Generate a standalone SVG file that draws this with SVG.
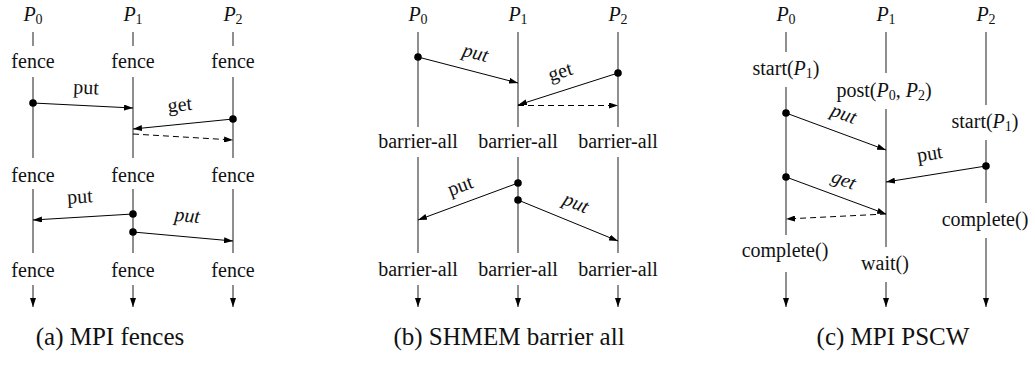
<svg xmlns="http://www.w3.org/2000/svg" width="1035" height="374" viewBox="0 0 1035 374">
<defs>
<style>
text{font-family:"Liberation Serif","Times New Roman",serif;font-size:20px;fill:#111}
.cap{font-size:25px}
.it{font-style:italic}
.ll{stroke:#333;stroke-width:1.1;fill:none}
.end{stroke:#333;stroke-width:1.1;fill:none;marker-end:url(#ah)}
.msg{stroke:#000;stroke-width:1;fill:none;marker-end:url(#ah)}
.dash{stroke-dasharray:6 4}
.dot{fill:#000}
</style>
<marker id="ah" viewBox="0 0 9 6" refX="9" refY="3" markerWidth="9" markerHeight="6" markerUnits="userSpaceOnUse" orient="auto">
<path d="M0,0 L9,3 L0,6 z" fill="#000"/>
</marker>
</defs>
<rect width="1035" height="374" fill="#fff"/>

<!-- Panel (a) -->
<g id="a-p0">
<text x="33" y="21" text-anchor="middle"><tspan class="it">P</tspan><tspan font-size="14" dy="3">0</tspan></text>
<path class="ll" d="M33,32V46M33,77V158M33,189V253"/>
<path class="end" d="M33,285V307"/>
<text x="33" y="68" text-anchor="middle">fence</text>
<text x="33" y="182" text-anchor="middle">fence</text>
<text x="33" y="277" text-anchor="middle">fence</text>
</g>
<g id="a-p1">
<text x="133" y="21" text-anchor="middle"><tspan class="it">P</tspan><tspan font-size="14" dy="3">1</tspan></text>
<path class="ll" d="M133,32V46M133,77V158M133,189V253"/>
<path class="end" d="M133,285V307"/>
<text x="133" y="68" text-anchor="middle">fence</text>
<text x="133" y="182" text-anchor="middle">fence</text>
<text x="133" y="277" text-anchor="middle">fence</text>
</g>
<g id="a-p2">
<text x="233" y="21" text-anchor="middle"><tspan class="it">P</tspan><tspan font-size="14" dy="3">2</tspan></text>
<path class="ll" d="M233,32V46M233,77V158M233,189V253"/>
<path class="end" d="M233,285V307"/>
<text x="233" y="68" text-anchor="middle">fence</text>
<text x="233" y="182" text-anchor="middle">fence</text>
<text x="233" y="277" text-anchor="middle">fence</text>
</g>
<g id="a-connectors">
<circle class="dot" cx="33" cy="103" r="3.8"/>
<path class="msg" d="M33,103L133,108"/>
<text text-anchor="middle" transform="translate(86,90) rotate(3)" y="4">put</text>
<circle class="dot" cx="233" cy="119" r="3.8"/>
<path class="msg" d="M233,119L133,129"/>
<text text-anchor="middle" transform="translate(180,107) rotate(-5.7)" y="4">get</text>
<path class="msg dash" d="M133,134L233,140"/>
<circle class="dot" cx="133" cy="214" r="3.8"/>
<path class="msg" d="M133,214L33,220"/>
<text text-anchor="middle" transform="translate(80,199) rotate(-3.4)" y="4">put</text>
<circle class="dot" cx="133" cy="232" r="3.8"/>
<path class="msg" d="M133,232L233,241"/>
<text class="it" text-anchor="middle" transform="translate(187,218) rotate(5)" y="4">put</text>
</g>
<text class="cap" x="110" y="345" text-anchor="middle">(a) MPI fences</text>

<!-- Panel (b) -->
<g id="b-p0">
<text x="418" y="21" text-anchor="middle"><tspan class="it">P</tspan><tspan font-size="14" dy="3">0</tspan></text>
<path class="ll" d="M418,32V127M418,157V253"/>
<path class="end" d="M418,285V307"/>
<text x="418" y="148" text-anchor="middle">barrier-all</text>
<text x="418" y="276" text-anchor="middle">barrier-all</text>
</g>
<g id="b-p1">
<text x="518" y="21" text-anchor="middle"><tspan class="it">P</tspan><tspan font-size="14" dy="3">1</tspan></text>
<path class="ll" d="M518,32V127M518,157V253"/>
<path class="end" d="M518,285V307"/>
<text x="518" y="148" text-anchor="middle">barrier-all</text>
<text x="518" y="276" text-anchor="middle">barrier-all</text>
</g>
<g id="b-p2">
<text x="618" y="21" text-anchor="middle"><tspan class="it">P</tspan><tspan font-size="14" dy="3">2</tspan></text>
<path class="ll" d="M618,32V127M618,157V253"/>
<path class="end" d="M618,285V307"/>
<text x="618" y="148" text-anchor="middle">barrier-all</text>
<text x="618" y="276" text-anchor="middle">barrier-all</text>
</g>
<g id="b-connectors">
<circle class="dot" cx="418" cy="57" r="3.8"/>
<path class="msg" d="M418,57L518,83"/>
<text class="it" text-anchor="middle" transform="translate(475,55) rotate(14.6)" y="4">put</text>
<circle class="dot" cx="618" cy="73" r="3.8"/>
<path class="msg" d="M618,73L518,105"/>
<text text-anchor="middle" transform="translate(561,74) rotate(-17.7)" y="4">get</text>
<path class="msg dash" d="M518,105.5L618,105.5"/>
<circle class="dot" cx="518" cy="183" r="3.8"/>
<path class="msg" d="M518,183L418,220"/>
<text text-anchor="middle" transform="translate(461,188) rotate(-20.3)" y="4">put</text>
<circle class="dot" cx="518" cy="200" r="3.8"/>
<path class="msg" d="M518,200L618,241"/>
<text class="it" text-anchor="middle" transform="translate(575,205) rotate(22.3)" y="4">put</text>
</g>
<text class="cap" x="509" y="345" text-anchor="middle">(b) SHMEM barrier all</text>

<!-- Panel (c) -->
<g id="c-p0">
<text x="786" y="21" text-anchor="middle"><tspan class="it">P</tspan><tspan font-size="14" dy="3">0</tspan></text>
<path class="ll" d="M786,32V52M786,87V235"/>
<path class="end" d="M786,272V307"/>
<text x="786" y="75" text-anchor="middle">start(<tspan class="it">P</tspan><tspan font-size="14" dy="3">1</tspan><tspan dy="-3">)</tspan></text>
<text x="785" y="257" text-anchor="middle">complete()</text>
</g>
<g id="c-p1">
<text x="886" y="21" text-anchor="middle"><tspan class="it">P</tspan><tspan font-size="14" dy="3">1</tspan></text>
<path class="ll" d="M886,32V73M886,109V247"/>
<path class="end" d="M886,282V307"/>
<text x="884" y="97" text-anchor="middle">post(<tspan class="it">P</tspan><tspan font-size="14" dy="3">0</tspan><tspan dy="-3">, </tspan><tspan class="it">P</tspan><tspan font-size="14" dy="3">2</tspan><tspan dy="-3">)</tspan></text>
<text x="885" y="270" text-anchor="middle">wait()</text>
</g>
<g id="c-p2">
<text x="986" y="21" text-anchor="middle"><tspan class="it">P</tspan><tspan font-size="14" dy="3">2</tspan></text>
<path class="ll" d="M986,32V105M986,140V203"/>
<path class="end" d="M986,238V307"/>
<text x="985" y="128" text-anchor="middle">start(<tspan class="it">P</tspan><tspan font-size="14" dy="3">1</tspan><tspan dy="-3">)</tspan></text>
<text x="985" y="226" text-anchor="middle">complete()</text>
</g>
<g id="c-connectors">
<circle class="dot" cx="786" cy="113" r="3.8"/>
<path class="msg" d="M786,113L886,150"/>
<text class="it" text-anchor="middle" transform="translate(843,116) rotate(20.3)" y="4">put</text>
<circle class="dot" cx="986" cy="166" r="3.8"/>
<path class="msg" d="M986,166L886,182"/>
<text text-anchor="middle" transform="translate(930,156) rotate(-9)" y="4">put</text>
<circle class="dot" cx="786" cy="177" r="3.8"/>
<path class="msg" d="M786,177L886,214"/>
<text class="it" text-anchor="middle" transform="translate(843,182) rotate(20.3)" y="4">get</text>
<path class="msg dash" d="M886,214L786,219"/>
</g>
<text class="cap" x="893" y="345" text-anchor="middle">(c) MPI PSCW</text>
</svg>
